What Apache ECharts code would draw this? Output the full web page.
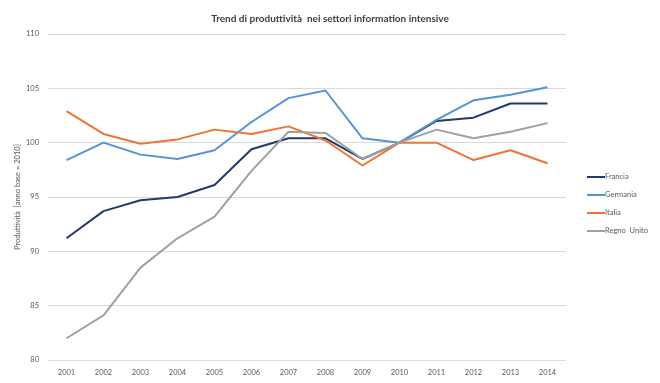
<!DOCTYPE html>
<html>
<head>
<meta charset="utf-8">
<script src="https://cdn.jsdelivr.net/npm/echarts@6/dist/echarts.min.js"></script>
<style>html,body{margin:0;padding:0;background:#fff;}#c{width:660px;height:383px;}</style>
</head>
<body>
<div id="c"></div>
<script>
const years = ['2001','2002','2003','2004','2005','2006','2007','2008','2009','2010','2011','2012','2013','2014'];
const francia = [91.2, 93.7, 94.7, 95.0, 96.1, 99.4, 100.4, 100.4, 98.5, 100, 102.0, 102.3, 103.6, 103.6];
const germania = [98.4, 100.0, 98.9, 98.5, 99.3, 101.9, 104.1, 104.8, 100.4, 100, 102.1, 103.9, 104.4, 105.1];
const italia = [102.9, 100.8, 99.9, 100.3, 101.2, 100.8, 101.5, 100.2, 97.9, 100, 100.0, 98.4, 99.3, 98.1];
const regnoUnito = [82.0, 84.1, 88.5, 91.2, 93.2, 97.4, 101.0, 100.9, 98.5, 100, 101.2, 100.4, 101.0, 101.8];
const seriesNames = ['Francia','Germania','Italia','Regno  Unito'];
const colors = ['#22396A','#5593D6','#EE7433','#A0A0A0'];
const font = 'Lato, "Open Sans", sans-serif';

const chart = echarts.init(document.getElementById('c'));
const mk = (name, data, color) => ({
  name, type: 'line', data, symbol: 'none', showSymbol: false,
  lineStyle: { width: 2, color }, itemStyle: { color }
});
chart.setOption({
  animation: false,
  title: {
    text: 'Trend di produttività  nei settori information intensive',
    left: 'center', top: 9,
    textStyle: { fontFamily: font, fontSize: 10, fontWeight: 'bold', color: '#404040' }
  },
  legend: {
    orient: 'vertical', left: 582, top: 168,
    itemWidth: 18, itemHeight: 2, itemGap: 10, icon: 'rect',
    textStyle: { fontFamily: font, fontSize: 7.5, color: '#595959', padding: [0,0,0,-5] },
    data: seriesNames
  },
  grid: { left: 48, right: 94, top: 34, bottom: 23 },
  xAxis: {
    type: 'category', data: years, boundaryGap: true,
    axisLine: { show: false }, axisTick: { show: false },
    axisLabel: { fontFamily: font, fontSize: 7.5, color: '#595959', margin: 9 }
  },
  yAxis: {
    type: 'value', min: 80, max: 110, interval: 5,
    name: 'Produttività  [anno base = 2010]', nameLocation: 'middle', nameGap: 26,
    nameMoveOverlap: false,
    nameTextStyle: { fontFamily: font, fontSize: 7.5, color: '#595959' },
    axisLine: { show: false }, axisTick: { show: false },
    axisLabel: { fontFamily: font, fontSize: 7.5, color: '#595959', margin: 9 },
    splitLine: { lineStyle: { color: '#D9D9D9', width: 1 } }
  },
  series: [
    mk(seriesNames[0], francia, colors[0]),
    mk(seriesNames[1], germania, colors[1]),
    mk(seriesNames[2], italia, colors[2]),
    mk(seriesNames[3], regnoUnito, colors[3])
  ]
});
</script>
</body>
</html>
